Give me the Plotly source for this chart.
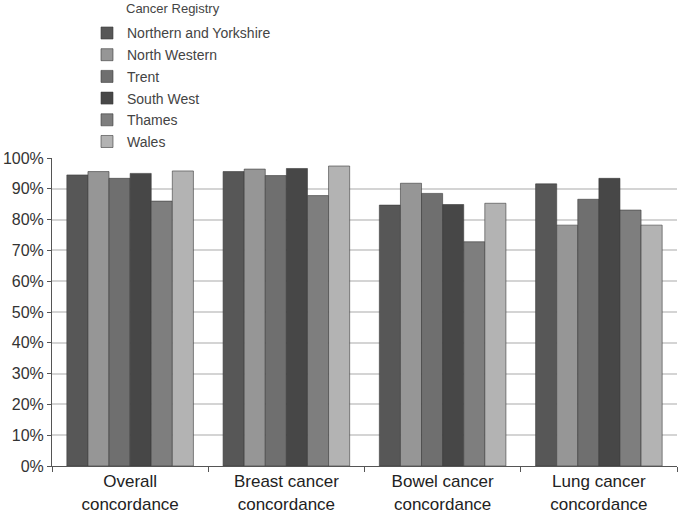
import plotly.graph_objects as go

categories = ["Overall<br>concordance", "Breast cancer<br>concordance",
              "Bowel cancer<br>concordance", "Lung cancer<br>concordance"]
registries = ["Northern and Yorkshire", "North Western", "Trent",
              "South West", "Thames", "Wales"]
northern_yorkshire = [94.5, 95.6, 84.7, 91.6]
north_western = [95.6, 96.4, 91.8, 78.2]
trent = [93.4, 94.3, 88.5, 86.6]
south_west = [95.0, 96.6, 84.9, 93.4]
thames = [86.0, 87.8, 72.8, 83.1]
wales = [95.8, 97.4, 85.3, 78.2]
series = [northern_yorkshire, north_western, trent, south_west, thames, wales]
colors = ["#575757", "#969696", "#6f6f6f", "#474747", "#7e7e7e", "#b3b3b3"]
y_ticks = [0, 10, 20, 30, 40, 50, 60, 70, 80, 90, 100]

fig = go.Figure()
for i, (name, vals, col) in enumerate(zip(registries, series, colors)):
    fig.add_trace(go.Bar(
        x=categories, y=vals, name=name, legendgroup=str(i),
        marker=dict(color=col, line=dict(color="#3a3a3a", width=0.6)),
    ))

font = "Liberation Sans, Arial, sans-serif"
fig.update_layout(
    width=680, height=514,
    margin=dict(l=52, r=3, t=158, b=48, autoexpand=False),
    paper_bgcolor="white", plot_bgcolor="white",
    barmode="group", bargap=0.19, bargroupgap=0,
    font=dict(family=font, color="#333333"),
    showlegend=True,
    legend=dict(x=0.056, y=1.4565, xanchor="left", yanchor="top",
                font=dict(size=14, color="#444444"),
                traceorder="grouped", tracegroupgap=0.5,
                bgcolor="rgba(0,0,0,0)", itemwidth=30),
    annotations=[dict(text="Cancer Registry", x=0.115, y=1.487,
                      xref="paper", yref="paper", xanchor="left",
                      yanchor="middle", showarrow=False,
                      font=dict(size=13, color="#444444"))],
)
fig.update_yaxes(range=[0, 100], tickvals=y_ticks,
                 ticktext=[f"{v}%" for v in y_ticks],
                 showgrid=True, gridcolor="#d4d4d4", gridwidth=1.5,
                 showline=True, linecolor="#555555", linewidth=1,
                 ticks="outside", ticklen=4, tickcolor="#555555",
                 tickfont=dict(size=16, color="#333333"), zeroline=False)
fig.update_xaxes(showline=True, linecolor="#555555", linewidth=1,
                 ticks="outside", tickson="boundaries", ticklen=5,
                 tickcolor="#555555",
                 tickfont=dict(size=17, color="#222222"))

fig.write_html("out.html", config={"displayModeBar": False},
               post_script="document.body.style.margin='0';"
                           "document.body.style.overflow='hidden';")
